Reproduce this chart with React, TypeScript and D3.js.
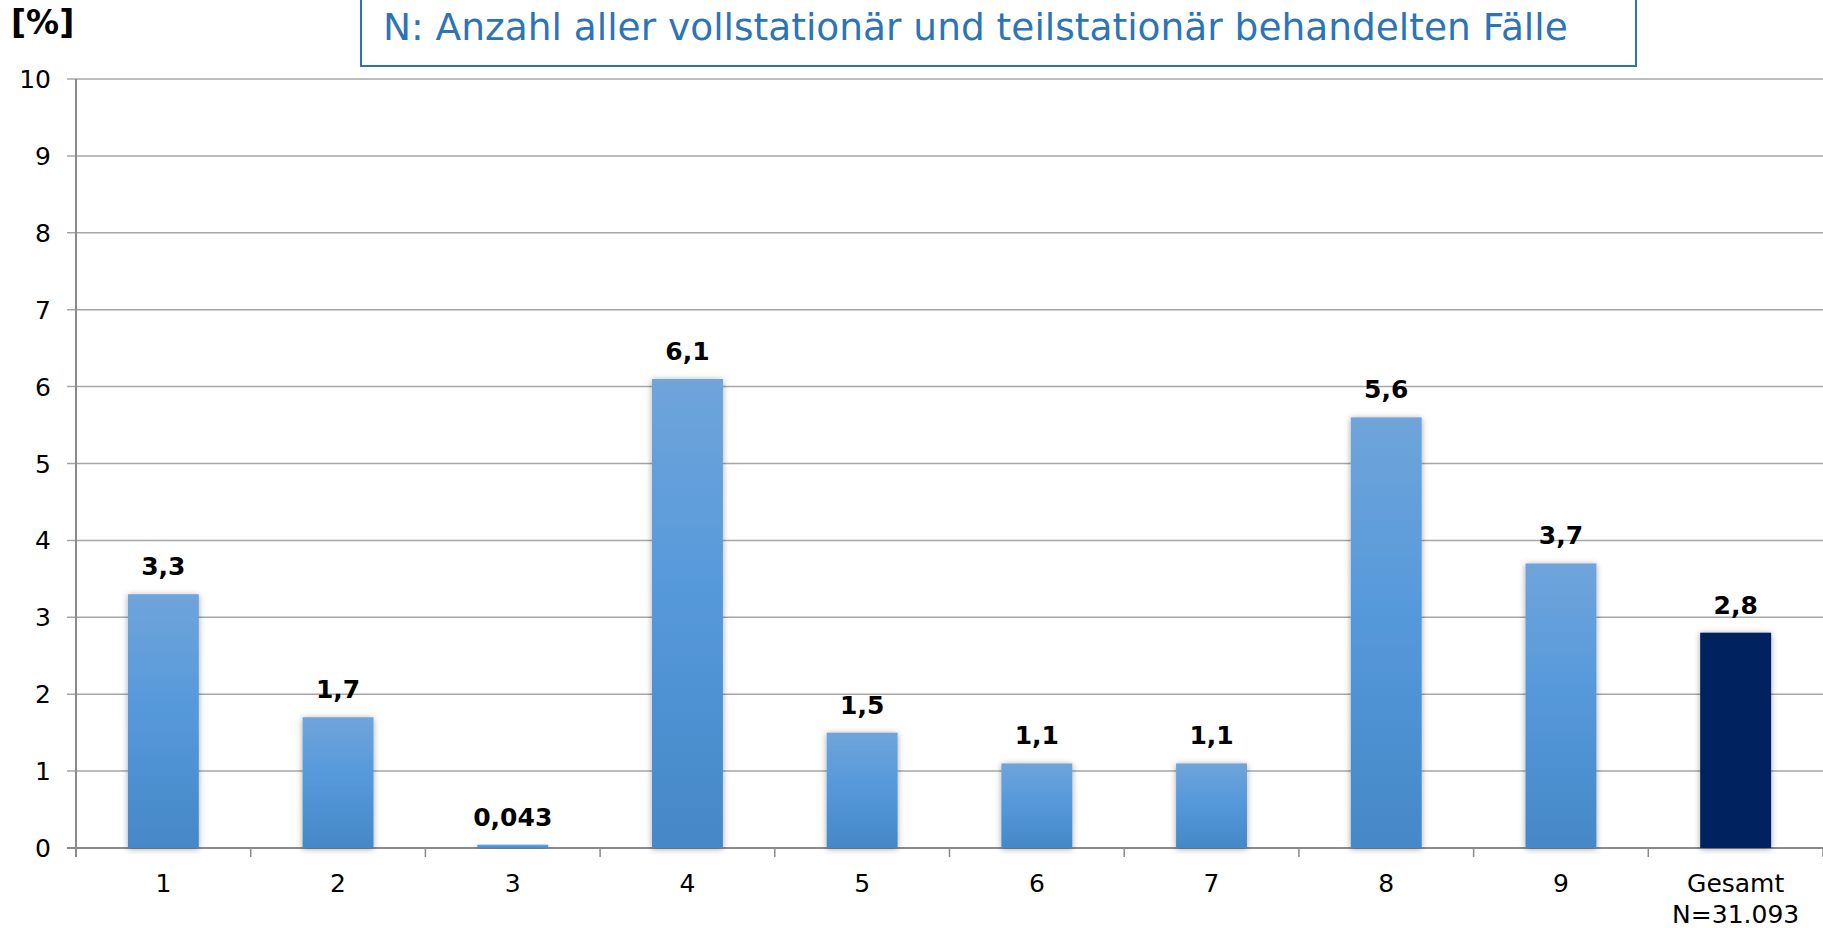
import React from "react";
import * as d3 from "d3";

const categories = ["1", "2", "3", "4", "5", "6", "7", "8", "9", "Gesamt"];
const values = [3.3, 1.7, 0.043, 6.1, 1.5, 1.1, 1.1, 5.6, 3.7, 2.8];
const valueLabels = ["3,3", "1,7", "0,043", "6,1", "1,5", "1,1", "1,1", "5,6", "3,7", "2,8"];
const yTicks = [0, 1, 2, 3, 4, 5, 6, 7, 8, 9, 10];
const totalSubLabel = "N=31.093";
const titleText = "N: Anzahl aller vollstationär und teilstationär behandelten Fälle";
const unitLabel = "[%]";

const W = 1823;
const H = 928;
const FONT = "'DejaVu Sans', Verdana, sans-serif";

export default function App() {
  const x0 = 76;
  const x1 = 1823;
  const y0 = 848;
  const y1 = 79;

  const x = d3.scaleBand<string>().domain(categories).range([x0, x1]).paddingInner(0.594).paddingOuter(0.297);
  const y = d3.scaleLinear().domain([0, 10]).range([y0, y1]);
  const step = x.step();

  return (
    <svg width={W} height={H} style={{ position: "absolute", left: 0, top: 0, background: "#fff" }} fontFamily={FONT}>
      <defs>
        <linearGradient id="barGrad" x1="0" y1="0" x2="0" y2="1">
          <stop offset="0%" stopColor="#6FA4DA" />
          <stop offset="45%" stopColor="#5699DB" />
          <stop offset="100%" stopColor="#4588C7" />
        </linearGradient>
        <filter id="shadow" x="-30%" y="-10%" width="160%" height="120%">
          <feDropShadow dx="0" dy="1" stdDeviation="3" floodColor="#000" floodOpacity="0.35" />
        </filter>
      </defs>

      {/* gridlines */}
      {yTicks.map((t) => (
        <line key={"g" + t} x1={67} x2={W} y1={y(t)} y2={y(t)} stroke={t === 0 ? "#8A8A8A" : "#A6A6A6"} strokeWidth={t === 0 ? 2 : 1.5} />
      ))}
      {/* y axis line */}
      <line x1={x0} x2={x0} y1={y1} y2={y0 + 9} stroke="#8A8A8A" strokeWidth={2} />
      {/* x ticks */}
      {categories.map((c, i) => (
        <line key={"xt" + i} x1={x0 + step * (i + 1)} x2={x0 + step * (i + 1)} y1={y0} y2={y0 + 9} stroke="#8A8A8A" strokeWidth={1.5} />
      ))}
      {/* y tick labels */}
      {yTicks.map((t) => (
        <text key={"yl" + t} x={51} y={y(t) + 9} textAnchor="end" fontSize={25} fill="#000">
          {t}
        </text>
      ))}

      {/* bars */}
      {categories.map((c, i) => {
        const bx = x(c)!;
        const by = y(values[i]);
        const isTotal = c === "Gesamt";
        return (
          <rect
            key={"b" + i}
            x={bx}
            y={by}
            width={x.bandwidth()}
            height={y0 - by}
            fill={isTotal ? "#03215E" : "url(#barGrad)"}
            filter="url(#shadow)"
          />
        );
      })}

      {/* value labels */}
      {categories.map((c, i) => (
        <text
          key={"v" + i}
          x={x(c)! + x.bandwidth() / 2}
          y={y(values[i]) - 19}
          textAnchor="middle"
          fontSize={25}
          fontWeight="bold"
          fill="#000"
        >
          {valueLabels[i]}
        </text>
      ))}

      {/* x labels */}
      {categories.map((c, i) => (
        <text key={"xl" + i} x={x(c)! + x.bandwidth() / 2} y={892} textAnchor="middle" fontSize={25} fill="#000">
          {c}
        </text>
      ))}
      <text x={x("Gesamt")! + x.bandwidth() / 2} y={923} textAnchor="middle" fontSize={25} fill="#000">
        {totalSubLabel}
      </text>

      {/* unit label */}
      <text x={11} y={34} fontSize={33} fontWeight="bold" fill="#000">
        {unitLabel}
      </text>

      {/* title box */}
      <rect x={361} y={-5} width={1275} height={71} fill="#fff" stroke="#2E74B5" strokeWidth={2} />
      <text x={383} y={40} fontSize={37.5} fill="#2E74B5">
        {titleText}
      </text>
    </svg>
  );
}
